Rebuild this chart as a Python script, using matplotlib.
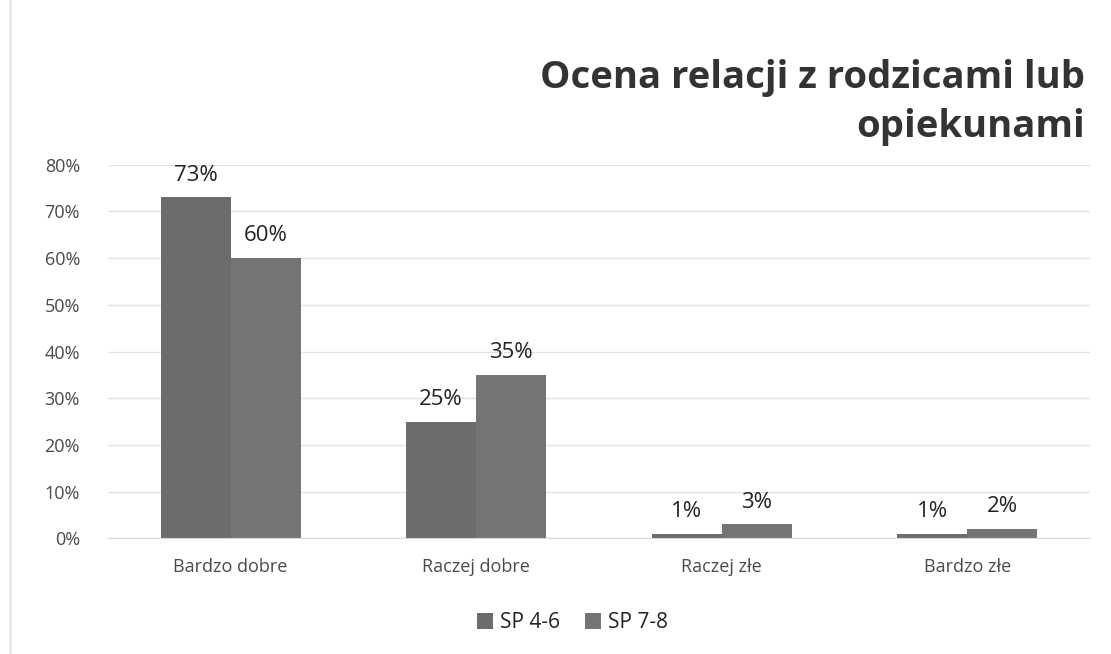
import numpy as np
import matplotlib.pyplot as plt
from matplotlib.lines import Line2D

categories = ['Bardzo dobre', 'Raczej dobre', 'Raczej złe', 'Bardzo złe']
sp_4_6 = [73, 25, 1, 1]
sp_7_8 = [60, 35, 3, 2]
series_names = ['SP 4-6', 'SP 7-8']

plt.rcParams['font.family'] = ['Open Sans', 'DejaVu Sans']

fig = plt.figure(figsize=(11.11, 6.54), dpi=100)
ax = fig.add_axes([0.097, 0.177, 0.884, 0.571])

x = np.arange(len(categories))
w = 0.285
b1 = ax.bar(x - w/2, np.array(sp_4_6) / 100, w, color='#6c6c6c', label=series_names[0])
b2 = ax.bar(x + w/2, np.array(sp_7_8) / 100, w, color='#747474', label=series_names[1])

for bars, vals in [(b1, sp_4_6), (b2, sp_7_8)]:
    for r, v in zip(bars, vals):
        ax.text(r.get_x() + r.get_width()/2, r.get_height() + 0.025, f'{v}%',
                ha='center', va='bottom', fontsize=16, color='#222222')

ax.set_xlim(-0.5, 3.5)
ax.set_ylim(0, 0.8)
ax.set_yticks(np.arange(0, 0.81, 0.1))
ax.set_yticklabels([f'{int(round(t*100))}%' for t in np.arange(0, 0.81, 0.1)])
ax.set_xticks(x)
ax.set_xticklabels(categories)
ax.tick_params(axis='both', length=0, labelsize=13, colors='#4a4a4a', pad=14)
ax.tick_params(axis='y', pad=20)
ax.grid(axis='y', color='#e3e3e3', linewidth=1)
ax.set_axisbelow(True)
for s in ['top', 'right', 'left']:
    ax.spines[s].set_visible(False)
ax.spines['bottom'].set_color('#d9d9d9')

fig.text(0.977, 0.843, 'Ocena relacji z rodzicami lub\nopiekunami', ha='right', va='center',
         fontsize=27.5, fontweight='bold', color='#333333', linespacing=1.4)

fig.legend(loc='center', bbox_to_anchor=(0.515, 0.048), ncol=2, frameon=False,
           fontsize=15, handlelength=0.8, handleheight=0.8, handletextpad=0.3,
           columnspacing=1.2, labelcolor='#222222')

fig.add_artist(Line2D([0.009, 0.009], [0.0, 1.0], transform=fig.transFigure,
                      color='#e6e6e6', linewidth=2))

fig.savefig('out.png', dpi=100)
